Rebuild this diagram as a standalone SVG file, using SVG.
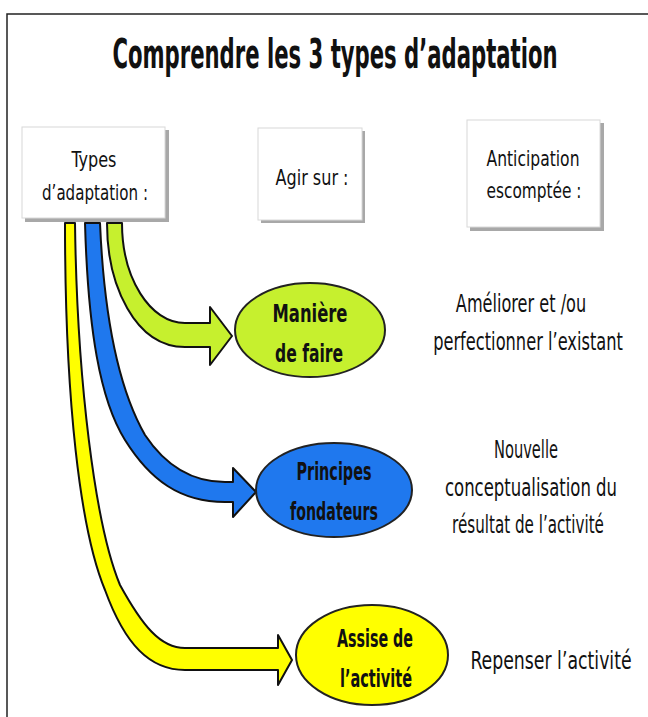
<svg xmlns="http://www.w3.org/2000/svg" width="648" height="717" viewBox="0 0 648 717">
<style>
  .t { font-family: "Liberation Sans Narrow", "DejaVu Sans Condensed", "DejaVu Sans", sans-serif; fill: #111; text-anchor: middle; }
  .title { font-size: 40px; font-weight: bold; }
  .box { font-size: 21px; }
  .lbl { font-size: 25px; font-weight: bold; }
  .desc { font-size: 24px; }
  .shadow { fill: #a8a8a8; }
  .card { fill: #ffffff; stroke: #d8d8d8; stroke-width: 1; }
  .arr { stroke: #111; stroke-width: 2; stroke-linejoin: round; }
  .node { stroke: #222; stroke-width: 2; }
  .green { fill: #c6f02e; }
  .blue { fill: #1f78ee; }
  .yellow { fill: #ffff00; }
</style>
<rect x="0" y="0" width="648" height="717" fill="#ffffff"/>
<path d="M7,717 L7,14 L648,14" fill="none" stroke="#222" stroke-width="1.5"/>

<text class="t title" transform="translate(335,68) scale(0.57,1)" x="0" y="0" textLength="781" lengthAdjust="spacingAndGlyphs">Comprendre les 3 types d’adaptation</text>

<g id="box-types">
  <rect class="shadow" x="25" y="130" width="144" height="92"/>
  <rect class="card" x="22" y="127" width="143" height="91"/>
  <text class="t box" x="94" y="167" textLength="45" lengthAdjust="spacingAndGlyphs">Types</text>
  <text class="t box" x="95" y="200" textLength="106" lengthAdjust="spacingAndGlyphs">d’adaptation :</text>
</g>
<g id="box-agir">
  <rect class="shadow" x="261" y="131" width="104" height="92"/>
  <rect class="card" x="258" y="128" width="104" height="92"/>
  <text class="t box" x="312" y="185" textLength="73" lengthAdjust="spacingAndGlyphs">Agir sur :</text>
</g>
<g id="box-anticipation">
  <rect class="shadow" x="470" y="123" width="134" height="108"/>
  <rect class="card" x="467" y="120" width="133" height="107"/>
  <text class="t box" x="533" y="166" textLength="93" lengthAdjust="spacingAndGlyphs">Anticipation</text>
  <text class="t box" x="534" y="198" textLength="95" lengthAdjust="spacingAndGlyphs">escomptée :</text>
</g>

<g id="connectors">
  <path class="arr green" d="M107,223 C107,285 135,347 185,347 L210,347 L210,365 L232,336 L210,307 L210,323 L185,323 C150,323 122,278 122,223 Z"/>
  <path class="arr blue" d="M85,223 C88,330 100,400 125,440 C150,480 180,502 225,502 L233,502 L233,517 L256,492 L233,468 L233,482 L225,482 C190,482 165,465 145,435 C125,400 105,340 100,223 Z"/>
  <path class="arr yellow" d="M65,223 C65,400 80,530 105,590 C125,645 150,670 185,670 L278,670 L278,685 L292,660 L278,635 L278,648 L185,648 C160,648 142,625 120,585 C95,525 77,380 75,223 Z"/>
</g>

<g id="node-maniere">
  <ellipse class="node green" cx="310" cy="330" rx="75" ry="47"/>
  <text class="t lbl" x="310" y="322" textLength="75" lengthAdjust="spacingAndGlyphs">Manière</text>
  <text class="t lbl" x="309" y="362" textLength="68" lengthAdjust="spacingAndGlyphs">de faire</text>
</g>
<g id="node-principes">
  <ellipse class="node blue" cx="334" cy="490" rx="78" ry="47"/>
  <text class="t lbl" x="334" y="480" textLength="75" lengthAdjust="spacingAndGlyphs">Principes</text>
  <text class="t lbl" x="334" y="520" textLength="88" lengthAdjust="spacingAndGlyphs">fondateurs</text>
</g>
<g id="node-assise">
  <ellipse class="node yellow" cx="372" cy="655" rx="76" ry="50"/>
  <text class="t lbl" x="375" y="647" textLength="76" lengthAdjust="spacingAndGlyphs">Assise de</text>
  <text class="t lbl" x="376" y="687" textLength="72" lengthAdjust="spacingAndGlyphs">l’activité</text>
</g>

<g id="desc-maniere">
  <text class="t desc" transform="translate(521,312) scale(0.72,1)" x="0" y="0" textLength="181" lengthAdjust="spacingAndGlyphs">Améliorer et /ou</text>
  <text class="t desc" transform="translate(528,350) scale(0.7,1)" x="0" y="0" textLength="271" lengthAdjust="spacingAndGlyphs">perfectionner l’existant</text>
</g>
<g id="desc-principes">
  <text class="t desc" transform="translate(526,458) scale(0.72,1)" x="0" y="0" textLength="89" lengthAdjust="spacingAndGlyphs">Nouvelle</text>
  <text class="t desc" transform="translate(531,496) scale(0.72,1)" x="0" y="0" textLength="239" lengthAdjust="spacingAndGlyphs">conceptualisation du</text>
  <text class="t desc" transform="translate(528,533) scale(0.7,1)" x="0" y="0" textLength="217" lengthAdjust="spacingAndGlyphs">résultat de l’activité</text>
</g>
<g id="desc-assise">
  <text class="t desc" transform="translate(551,669) scale(0.75,1)" x="0" y="0" textLength="215" lengthAdjust="spacingAndGlyphs">Repenser l’activité</text>
</g>
</svg>
